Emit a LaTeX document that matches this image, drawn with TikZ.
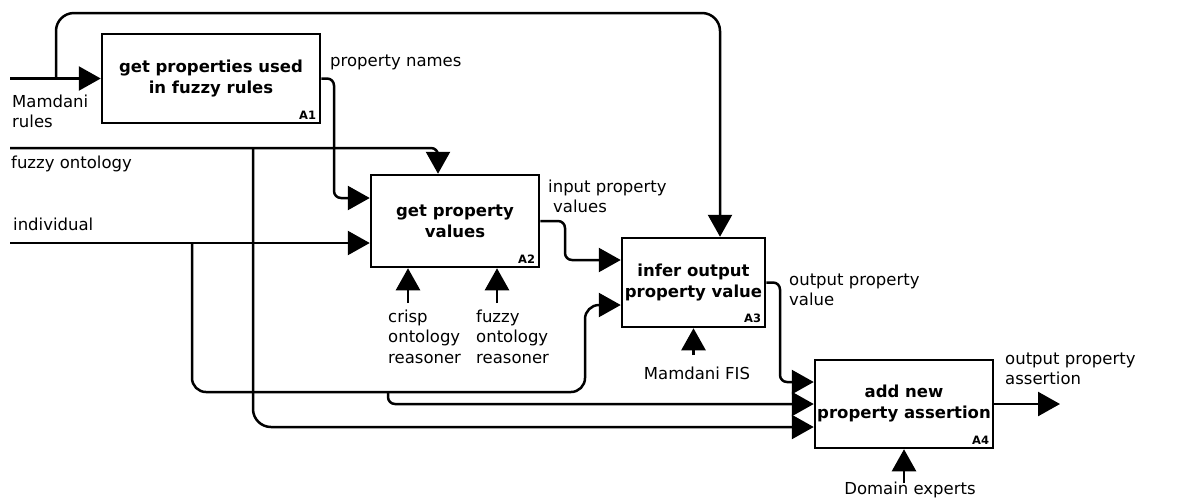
\documentclass[tikz,border=0pt]{standalone}
\usepackage{fontspec}
\setmainfont{DejaVu Sans}
\usetikzlibrary{arrows.meta,calc}
\begin{document}
\begin{tikzpicture}[x=1pt,y=-1pt,
  box/.style={draw,line width=2.5pt,inner sep=0pt,align=center,font=\fontsize{16.5}{21}\selectfont\bfseries},
  flow/.style={line width=2.5pt,-{Triangle[length=22pt,width=24pt]},rounded corners=7pt},
  lbl/.style={inner sep=0pt,align=left,font=\fontsize{16.5}{20.5}\selectfont},
  tag/.style={font=\fontsize{11.5}{13}\selectfont\bfseries,inner sep=0pt,anchor=south east}]

\useasboundingbox (0,0) rectangle (1190,499);

% boxes
\node[box,minimum width=218pt,minimum height=89pt] (A1) at (211,78.5) {get properties used\\in fuzzy rules};
\node[box,minimum width=168pt,minimum height=92pt] (A2) at (455,221) {get property\\values};
\node[box,minimum width=143pt,minimum height=89pt] (A3) at (693.5,282.5) {infer output\\property value};
\node[box,minimum width=178pt,minimum height=88pt] (A4) at (904,404) {add new\\property assertion};
\node[tag] (t1) at ($(A1.south east)+(-5,-5)$) {A1};
\node[tag] (t2) at ($(A2.south east)+(-5,-5)$) {A2};
\node[tag] (t3) at ($(A3.south east)+(-5,-5)$) {A3};
\node[tag] (t4) at ($(A4.south east)+(-5,-5)$) {A4};

% coordinates
\coordinate (mr) at (10,78.5);
\coordinate (tl) at (56,78.5);
\coordinate (tr) at (720,13);
\coordinate (fo) at (10,148);
\coordinate (fo2) at (438,148);
\coordinate (fb) at (253,148);
\coordinate (fb2) at (253,427);
\coordinate (pn) at (334,198);
\coordinate (in) at (10,243);
\coordinate (ib) at (192,243);
\coordinate (ib2) at (585,392);
\coordinate (ib3) at (585,305);
\coordinate (jb) at (388,392);
\coordinate (jb2) at (388,404);
\coordinate (o2) at (565,260);
\coordinate (o3) at (780,382);
\coordinate (o4) at (1060,404);
\coordinate (cr) at (408,303);
\coordinate (fr) at (497,303);
\coordinate (mf) at (693.5,355);
\coordinate (de) at (904,483);

% connectors
\draw[flow] (mr) -- (A1.west);
\draw[flow,rounded corners=18pt] (tl) |- (tr) -- (tr |- A3.north);
\draw[flow] (fo) -- (fo2) -- (fo2 |- A2.north);
\draw[flow,rounded corners=18pt] (fb) -- (fb2) -- (fb2 -| A4.west);
\draw[flow] (A1.east) -| (pn) -- (pn -| A2.west);
\draw[flow] (in) -- (in -| A2.west);
\draw[flow,rounded corners=14pt] (ib) |- (ib2) -- (ib3) -- (ib3 -| A3.west);
\draw[flow] (jb) -- (jb2) -- (A4.west);
\draw[flow] (A2.east) -| (o2) -- (o2 -| A3.west);
\draw[flow] (A3.east) -| (o3) -- (o3 -| A4.west);
\draw[flow] (A4.east) -- (o4);
\draw[flow] (cr) -- (cr |- A2.south);
\draw[flow] (fr) -- (fr |- A2.south);
\draw[flow] (mf) -- (A3.south);
\draw[flow] (de) -- (A4.south);

% labels
\node[lbl,anchor=base west] (lpn) at (330,66) {property names};
\node[lbl,anchor=north west] (lmr) at (12,94.5) {Mamdani\\rules};
\node[lbl,anchor=base west] (lfo) at (11,168) {fuzzy ontology};
\node[lbl,anchor=base west] (lin) at (13,230) {individual};
\node[lbl,anchor=north west] (lipv) at (548,179.5) {input property\\\hspace*{5pt}values};
\node[lbl,anchor=north west] (lcr) at (388,309.5) {crisp\\ontology\\reasoner};
\node[lbl,anchor=north west] (lfr) at (476,309.5) {fuzzy\\ontology\\reasoner};
\node[lbl,anchor=north west] (lopv) at (789,273.5) {output property\\value};
\node[lbl,anchor=base] (lmf) at (697,379) {Mamdani FIS};
\node[lbl,anchor=north west] (lopa) at (1005,352.5) {output property\\assertion};
\node[lbl,anchor=base] (lde) at (910,494) {Domain experts};
\end{tikzpicture}
\end{document}
